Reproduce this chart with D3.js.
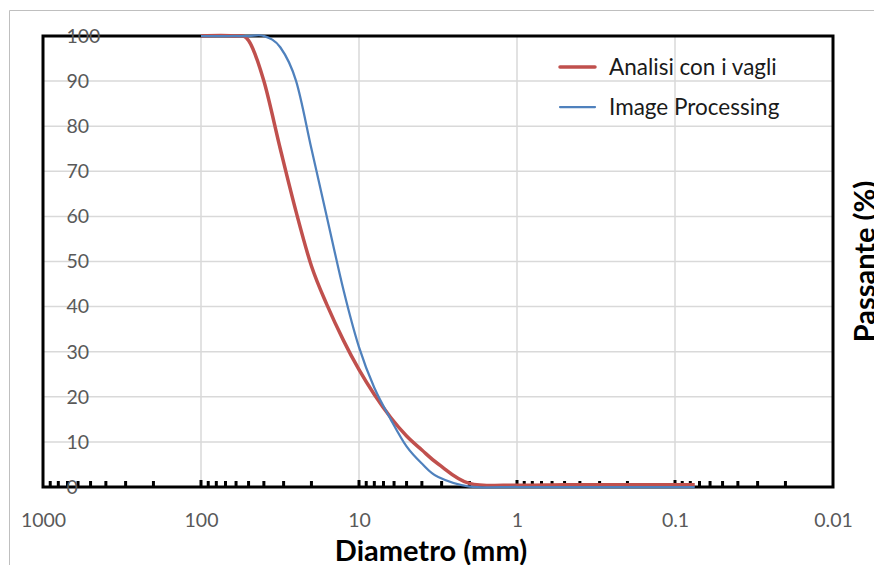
<!DOCTYPE html>
<html>
<head>
<meta charset="utf-8">
<script src="https://cdn.jsdelivr.net/npm/d3@7"></script>
<style>
  html, body { margin: 0; padding: 0; background: #fff; }
  svg { display: block; }
</style>
</head>
<body>
<svg id="chart" width="874" height="565"></svg>
<script>
// Sieve sizes (mm) shared by both grading curves
const diameters = [100, 63, 50, 40, 31.5, 25, 20, 16, 12.5, 10, 8, 6.3, 5, 4, 3.15, 2, 1, 0.5, 0.25, 0.125, 0.075];
// Percent passing, sieve analysis
const passingSieves = [100, 100, 99, 90, 75, 61, 49, 40.5, 32.4, 26, 20.5, 15.4, 11.3, 8.2, 5.1, 0.8, 0.4, 0.5, 0.5, 0.5, 0.5];
// Percent passing, image processing
const passingImage = [100, 100, 100, 100, 97.5, 90, 75, 60, 43.5, 31, 22, 15, 9, 5.2, 2.2, 0.1, 0, 0, 0, 0, 0];

const seriesNames = ["Analisi con i vagli", "Image Processing"];
const seriesColors = ["#C0504D", "#4F81BD"];
const seriesWidths = [3.5, 2.25];

const xTickValues = [1000, 100, 10, 1, 0.1, 0.01];
const xTickLabels = ["1000", "100", "10", "1", "0.1", "0.01"];
const yTickValues = [0, 10, 20, 30, 40, 50, 60, 70, 80, 90, 100];

const xTitle = "Diametro (mm)";
const yTitle = "Passante (%)";

const svg = d3.select("#chart");
const font = "Lato, 'Open Sans', sans-serif";

const plot = { left: 43, right: 833, top: 36, bottom: 487 };

const x = d3.scaleLog().domain([1000, 0.01]).range([plot.left, plot.right]);
const y = d3.scaleLinear().domain([0, 100]).range([plot.bottom, plot.top]);

// Outer chart frame
svg.append("path")
  .attr("d", `M9.5,565 V10.5 H874`)
  .attr("fill", "none")
  .attr("stroke", "#BFBFBF")
  .attr("stroke-width", 1);

// Gridlines
const grid = svg.append("g");
grid.selectAll("line.h").data(yTickValues).join("line")
  .attr("x1", plot.left).attr("x2", plot.right)
  .attr("y1", d => y(d)).attr("y2", d => y(d))
  .attr("stroke", "#D9D9D9").attr("stroke-width", 1.5);
grid.selectAll("line.v").data(xTickValues).join("line")
  .attr("x1", d => x(d)).attr("x2", d => x(d))
  .attr("y1", plot.top).attr("y2", plot.bottom)
  .attr("stroke", "#D9D9D9").attr("stroke-width", 1.5);

// Plot border
svg.append("rect")
  .attr("x", plot.left).attr("y", plot.top)
  .attr("width", plot.right - plot.left).attr("height", plot.bottom - plot.top)
  .attr("fill", "none").attr("stroke", "#000").attr("stroke-width", 3);

// Inward tick marks on the log axis (majors and minors)
const allTicks = x.ticks().filter(v => v < 1000 && v > 0.01);
svg.append("g").selectAll("line").data(allTicks).join("line")
  .attr("x1", d => x(d)).attr("x2", d => x(d))
  .attr("y1", plot.bottom)
  .attr("y2", d => plot.bottom - (xTickValues.includes(d) ? 7 : 6))
  .attr("stroke", "#000").attr("stroke-width", 3);

// X axis labels
const xAxis = d3.axisBottom(x)
  .tickValues(xTickValues)
  .tickFormat((d, i) => xTickLabels[i])
  .tickSize(0).tickPadding(0);
const gx = svg.append("g").attr("transform", `translate(0, ${plot.bottom})`).call(xAxis);
gx.select(".domain").remove();
gx.selectAll("text")
  .attr("y", 40).attr("dy", 0)
  .attr("fill", "#595959")
  .style("font-family", font).style("font-size", "19.5px");

// Y axis labels (start-aligned inside the plot)
const gy = svg.append("g");
gy.selectAll("text").data(yTickValues).join("text")
  .attr("x", 66.5).attr("y", d => y(d))
  .attr("dy", "0.35em")
  .attr("fill", "#595959")
  .style("font-family", font).style("font-size", "19.5px")
  .text(d => d);

// Grading curves
const seriesData = [passingSieves, passingImage];
const line = d3.line()
  .x(d => x(d[0]))
  .y(d => y(d[1]))
  .curve(d3.curveCardinal.tension(0));

seriesData.forEach((vals, i) => {
  svg.append("path")
    .datum(diameters.map((dm, j) => [dm, vals[j]]))
    .attr("d", line)
    .attr("fill", "none")
    .attr("stroke", seriesColors[i])
    .attr("stroke-width", seriesWidths[i])
    .attr("stroke-linejoin", "round");
});

// Legend
const legend = svg.append("g");
seriesNames.forEach((name, i) => {
  const ly = 67 + i * 40;
  legend.append("line")
    .attr("x1", 560).attr("x2", 595).attr("y1", ly).attr("y2", ly)
    .attr("stroke", seriesColors[i]).attr("stroke-width", seriesWidths[i])
    .attr("stroke-linecap", "round");
  legend.append("text")
    .attr("x", 609).attr("y", ly).attr("dy", "0.35em")
    .attr("fill", "#1a1a1a")
    .style("font-family", font).style("font-size", "22.5px")
    .text(name);
});

// Axis titles
svg.append("text")
  .attr("x", 431).attr("y", 561)
  .attr("text-anchor", "middle")
  .attr("fill", "#000")
  .style("font-family", font).style("font-size", "29px").style("font-weight", "bold")
  .text(xTitle);

svg.append("text")
  .attr("transform", `translate(875, ${(plot.top + plot.bottom) / 2}) rotate(-90)`)
  .attr("text-anchor", "middle")
  .attr("fill", "#000")
  .style("font-family", font).style("font-size", "29px").style("font-weight", "bold")
  .text(yTitle);
</script>
</body>
</html>
